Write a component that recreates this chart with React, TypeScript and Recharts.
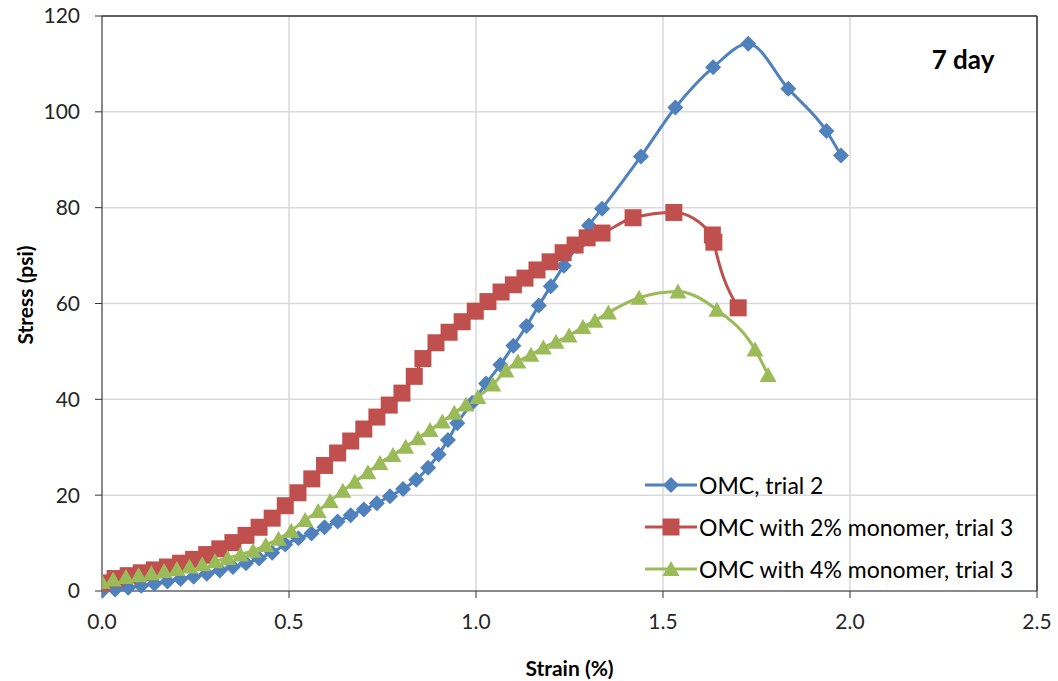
import React from 'react';
import {
    LineChart,
    Line,
    XAxis,
    YAxis,
    CartesianGrid,
    Legend,
    Label,
    ReferenceLine
} from 'recharts';

// OMC, trial 2
const omcStrain = [
    0, 0.035, 0.07, 0.105, 0.14, 0.175, 0.21, 0.245, 0.28, 0.315, 0.35, 0.385, 0.42, 0.455, 0.49,
    0.525, 0.56, 0.595, 0.63, 0.665, 0.70, 0.735, 0.77, 0.805, 0.84, 0.872, 0.90, 0.925, 0.95, 0.99,
    1.027, 1.065, 1.10, 1.135, 1.168, 1.20, 1.235, 1.27, 1.302, 1.337, 1.441, 1.533, 1.634, 1.728,
    1.835, 1.937, 1.976
];
const omcStress = [
    0, 0.3, 0.7, 1.1, 1.5, 2.0, 2.5, 3.0, 3.6, 4.3, 5.0, 5.8, 6.8, 8.0, 9.7,
    11.0, 12.0, 13.3, 14.5, 15.8, 17.0, 18.3, 19.8, 21.3, 23.2, 25.7, 28.5, 31.5, 35.0, 39.3,
    43.3, 47.2, 51.2, 55.3, 59.6, 63.6, 67.9, 72.0, 76.3, 79.8, 90.7, 100.9, 109.3, 114.2,
    104.8, 96.0, 90.9
];

// OMC with 2% monomer, trial 3
const mono2Strain = [
    0, 0.035, 0.07, 0.105, 0.14, 0.175, 0.21, 0.245, 0.28, 0.315, 0.35, 0.385, 0.42, 0.455, 0.49,
    0.524, 0.561, 0.595, 0.63, 0.665, 0.70, 0.735, 0.768, 0.802, 0.835, 0.858, 0.893, 0.928, 0.963,
    0.998, 1.032, 1.067, 1.10, 1.131, 1.163, 1.198, 1.233, 1.265, 1.297, 1.337, 1.42, 1.529, 1.632,
    1.636, 1.701
];
const mono2Stress = [
    1.7, 2.6, 3.2, 3.8, 4.4, 5.0, 5.8, 6.6, 7.6, 8.8, 10.1, 11.6, 13.3, 15.2, 17.8,
    20.5, 23.4, 26.2, 28.8, 31.3, 33.8, 36.3, 38.8, 41.3, 44.8, 48.5, 51.8, 54.0, 56.2,
    58.4, 60.4, 62.4, 63.9, 65.3, 67.0, 68.7, 70.6, 72.2, 73.7, 74.7, 77.9, 79.0, 74.3,
    72.8, 59.1
];

// OMC with 4% monomer, trial 3
const mono4Strain = [
    0, 0.03, 0.064, 0.098, 0.132, 0.166, 0.2, 0.234, 0.268, 0.302, 0.336, 0.37, 0.404, 0.438, 0.472,
    0.506, 0.543, 0.578, 0.61, 0.644, 0.676, 0.711, 0.743, 0.778, 0.812, 0.845, 0.877, 0.91, 0.942,
    0.973, 1.005, 1.045, 1.08, 1.112, 1.147, 1.18, 1.214, 1.249, 1.286, 1.318, 1.354, 1.436, 1.54,
    1.644, 1.746, 1.781
];
const mono4Stress = [
    1.9, 2.4, 2.9, 3.3, 3.7, 4.2, 4.6, 5.1, 5.6, 6.2, 6.9, 7.6, 8.4, 9.6, 10.9,
    12.6, 14.8, 16.7, 18.8, 20.9, 22.8, 24.8, 26.7, 28.4, 30.1, 31.9, 33.6, 35.4, 37.2,
    38.9, 40.5, 43.1, 46.0, 47.9, 49.3, 50.8, 52.0, 53.3, 55.1, 56.4, 58.1, 61.2, 62.5,
    58.7, 50.4, 45.1
];

const xTicks = [0, 0.5, 1.0, 1.5, 2.0, 2.5];
const yTicks = [0, 20, 40, 60, 80, 100, 120];

const toPoints = (xs: number[], ys: number[]) => xs.map((x, i) => ({ strain: x, stress: ys[i] }));

type Shape = 'diamond' | 'square' | 'triangle';

const series: { name: string; color: string; shape: Shape; data: { strain: number; stress: number }[] }[] = [
    { name: 'OMC, trial 2', color: '#4f81bd', shape: 'diamond', data: toPoints(omcStrain, omcStress) },
    { name: 'OMC with 2% monomer, trial 3', color: '#c0504d', shape: 'square', data: toPoints(mono2Strain, mono2Stress) },
    { name: 'OMC with 4% monomer, trial 3', color: '#9bbb59', shape: 'triangle', data: toPoints(mono4Strain, mono4Stress) }
];

const FONT = 'Lato, "Open Sans", sans-serif';
const AXIS = '#333333';

const Marker = ({ shape, cx, cy, color }: { shape: Shape; cx: number; cy: number; color: string }) => {
    if (shape === 'diamond') {
        return <polygon points={`${cx},${cy - 8} ${cx + 8},${cy} ${cx},${cy + 8} ${cx - 8},${cy}`} fill={color} />;
    }
    if (shape === 'square') {
        return <rect x={cx - 8.5} y={cy - 8.5} width={17} height={17} fill={color} />;
    }
    return <polygon points={`${cx},${cy - 8} ${cx + 8.5},${cy + 7} ${cx - 8.5},${cy + 7}`} fill={color} />;
};

const LegendBox = () => (
    <div style={{ fontFamily: FONT, fontSize: 23, color: '#000' }}>
        {series.map(s => (
            <div key={s.name} style={{ display: 'flex', alignItems: 'center', height: 42 }}>
                <svg width={56} height={22}>
                    <line x1={2} x2={54} y1={11} y2={11} stroke={s.color} strokeWidth={3} />
                    <Marker shape={s.shape} cx={28} cy={11} color={s.color} />
                </svg>
                <span style={{ whiteSpace: 'nowrap' }}>{s.name}</span>
            </div>
        ))}
    </div>
);

const App: React.FC = () => {
    return (
        <div style={{ position: 'absolute', left: 0, top: 0, width: 1058, height: 681, background: '#fff' }}>
            <LineChart width={1058} height={681} margin={{ top: 16, right: 21, left: 0, bottom: 0 }}>
                <CartesianGrid stroke="#d9d9d9" strokeWidth={1.5} />
                <XAxis
                    dataKey="strain"
                    type="number"
                    domain={[0, 2.5]}
                    ticks={xTicks}
                    tickFormatter={(v: number) => v.toFixed(1)}
                    height={90}
                    stroke={AXIS}
                    tickSize={7}
                    tickMargin={16}
                    tick={{ fill: '#262626', fontSize: 21, fontFamily: FONT }}
                    allowDataOverflow
                >
                    <Label
                        value="Strain (%)"
                        position="insideBottom"
                        offset={5}
                        style={{ fontFamily: FONT, fontSize: 21, fontWeight: 'bold', fill: '#000' }}
                    />
                </XAxis>
                <YAxis
                    type="number"
                    domain={[0, 120]}
                    ticks={yTicks}
                    width={102}
                    stroke={AXIS}
                    tickSize={7}
                    tickMargin={15}
                    tick={{ fill: '#262626', fontSize: 21, fontFamily: FONT }}
                >
                    <Label
                        content={() => (
                            <text
                                x={24}
                                y={295}
                                transform="rotate(-90 24 295)"
                                textAnchor="middle"
                                dominantBaseline="central"
                                style={{ fontFamily: FONT, fontSize: 21, fontWeight: 'bold', fill: '#000' }}
                            >
                                Stress (psi)
                            </text>
                        )}
                    />
                </YAxis>
                <ReferenceLine y={120} stroke={AXIS} strokeWidth={1.5} />
                <ReferenceLine x={2.5} stroke={AXIS} strokeWidth={1.5} />
                {series.map(s => (
                    <Line
                        key={s.name}
                        data={s.data}
                        dataKey="stress"
                        name={s.name}
                        type="monotone"
                        stroke={s.color}
                        strokeWidth={3}
                        isAnimationActive={false}
                        dot={(p: any) => (
                            <Marker key={`${s.name}-${p.index}`} shape={s.shape} cx={p.cx} cy={p.cy} color={s.color} />
                        )}
                        activeDot={false}
                    />
                ))}
                <Legend
                    layout="vertical"
                    align="center"
                    verticalAlign="middle"
                    content={() => <LegendBox />}
                    wrapperStyle={{ left: 643, top: 464, width: 'auto' }}
                />
            </LineChart>
            <svg
                width={1058}
                height={681}
                style={{ position: 'absolute', left: 0, top: 0, pointerEvents: 'none' }}
            >
                <text
                    x={963}
                    y={69}
                    textAnchor="middle"
                    style={{ fontFamily: FONT, fontSize: 26, fontWeight: 'bold', fill: '#000' }}
                >
                    7 day
                </text>
            </svg>
        </div>
    );
};

export default App;
